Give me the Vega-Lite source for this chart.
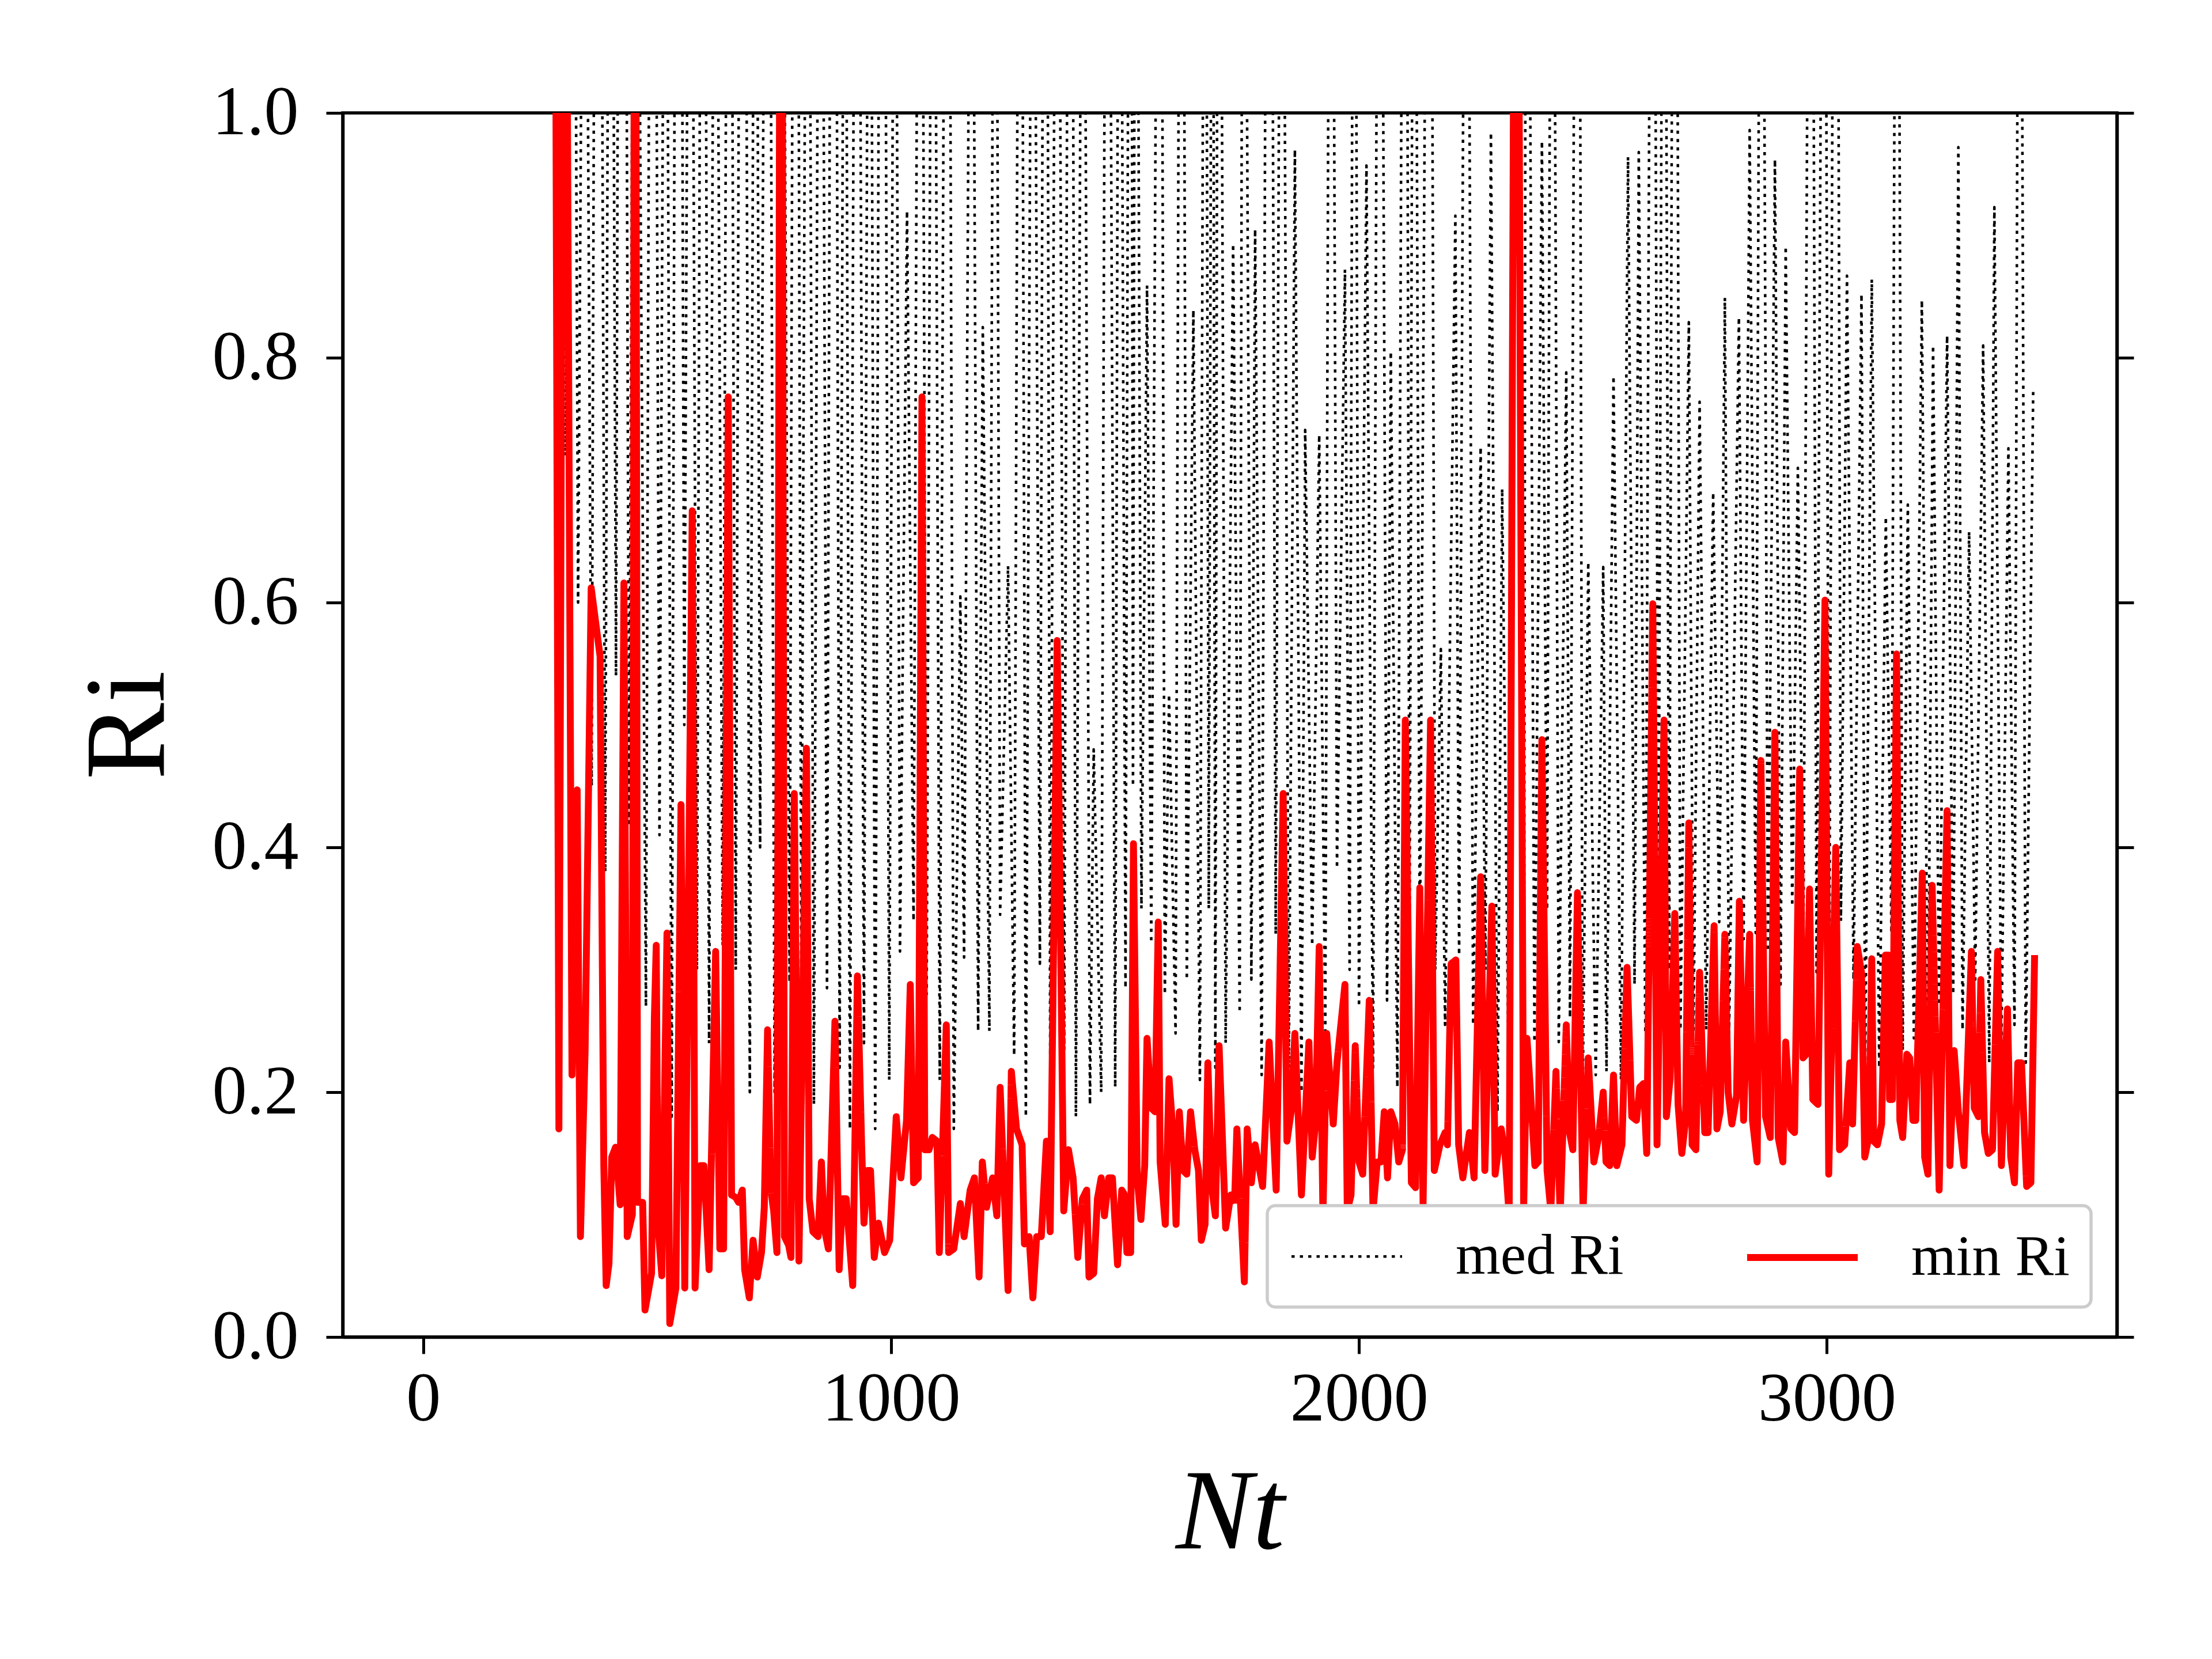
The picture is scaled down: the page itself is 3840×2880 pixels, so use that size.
{
  "$schema": "https://vega.github.io/schema/vega-lite/v6.json",
  "width": 3080,
  "height": 2125,
  "autosize": {"type": "none"},
  "padding": {"left": 595, "top": 196, "right": 165, "bottom": 559},
  "background": "white",
  "config": {
    "view": {"stroke": "black", "strokeWidth": 5.5},
    "font": "Liberation Serif",
    "axis": {
      "grid": false,
      "domainColor": "black",
      "domainWidth": 5.5,
      "tickColor": "black",
      "tickWidth": 5,
      "tickSize": 29,
      "labelColor": "black",
      "labelFont": "Liberation Serif",
      "labelFontSize": 120,
      "labelLimit": 0,
      "titleColor": "black",
      "titleFont": "Liberation Serif",
      "titleFontWeight": "normal",
      "titleFontSize": 200
    }
  },
  "layer": [
    {
      "data": {
        "values": [
          {"series":"med Ri","Nt":292,"Ri":1.6},{"series":"med Ri","Nt":305,"Ri":0.72},{"series":"med Ri","Nt":318,"Ri":1.8},{"series":"med Ri","Nt":331,"Ri":0.6},
          {"series":"med Ri","Nt":345,"Ri":1.5},{"series":"med Ri","Nt":360,"Ri":0.45},{"series":"med Ri","Nt":373,"Ri":2.0},{"series":"med Ri","Nt":389,"Ri":0.38},
          {"series":"med Ri","Nt":400,"Ri":1.7},{"series":"med Ri","Nt":412,"Ri":0.54},{"series":"med Ri","Nt":425,"Ri":2.2},{"series":"med Ri","Nt":440,"Ri":0.42},
          {"series":"med Ri","Nt":453,"Ri":1.6},{"series":"med Ri","Nt":476,"Ri":0.27},{"series":"med Ri","Nt":490,"Ri":1.9},{"series":"med Ri","Nt":505,"Ri":0.41},
          {"series":"med Ri","Nt":518,"Ri":1.5},{"series":"med Ri","Nt":531,"Ri":0.18},{"series":"med Ri","Nt":545,"Ri":2.1},{"series":"med Ri","Nt":558,"Ri":0.5},
          {"series":"med Ri","Nt":571,"Ri":1.6},{"series":"med Ri","Nt":585,"Ri":0.3},{"series":"med Ri","Nt":598,"Ri":1.8},{"series":"med Ri","Nt":611,"Ri":0.24},
          {"series":"med Ri","Nt":624,"Ri":1.5},{"series":"med Ri","Nt":640,"Ri":0.32},{"series":"med Ri","Nt":654,"Ri":1.7},{"series":"med Ri","Nt":668,"Ri":0.30},
          {"series":"med Ri","Nt":683,"Ri":2.0},{"series":"med Ri","Nt":698,"Ri":0.20},{"series":"med Ri","Nt":710,"Ri":1.6},{"series":"med Ri","Nt":720,"Ri":0.40},
          {"series":"med Ri","Nt":736,"Ri":1.8},{"series":"med Ri","Nt":751,"Ri":0.20},{"series":"med Ri","Nt":766,"Ri":1.5},{"series":"med Ri","Nt":783,"Ri":0.29},
          {"series":"med Ri","Nt":796,"Ri":1.9},{"series":"med Ri","Nt":808,"Ri":0.3},{"series":"med Ri","Nt":822,"Ri":1.6},{"series":"med Ri","Nt":835,"Ri":0.19},
          {"series":"med Ri","Nt":849,"Ri":1.7},{"series":"med Ri","Nt":863,"Ri":0.285},{"series":"med Ri","Nt":877,"Ri":2.0},{"series":"med Ri","Nt":890,"Ri":0.22},
          {"series":"med Ri","Nt":901,"Ri":1.5},{"series":"med Ri","Nt":912,"Ri":0.17},{"series":"med Ri","Nt":927,"Ri":1.8},{"series":"med Ri","Nt":942,"Ri":0.24},
          {"series":"med Ri","Nt":954,"Ri":1.6},{"series":"med Ri","Nt":966,"Ri":0.17},{"series":"med Ri","Nt":981,"Ri":1.9},{"series":"med Ri","Nt":996,"Ri":0.21},
          {"series":"med Ri","Nt":1008,"Ri":1.5},{"series":"med Ri","Nt":1019,"Ri":0.315},{"series":"med Ri","Nt":1034,"Ri":0.92},{"series":"med Ri","Nt":1048,"Ri":0.34},
          {"series":"med Ri","Nt":1062,"Ri":1.7},{"series":"med Ri","Nt":1076,"Ri":0.28},{"series":"med Ri","Nt":1090,"Ri":1.6},{"series":"med Ri","Nt":1104,"Ri":0.21},
          {"series":"med Ri","Nt":1120,"Ri":1.8},{"series":"med Ri","Nt":1134,"Ri":0.17},{"series":"med Ri","Nt":1148,"Ri":0.605},{"series":"med Ri","Nt":1156,"Ri":0.31},
          {"series":"med Ri","Nt":1172,"Ri":1.5},{"series":"med Ri","Nt":1186,"Ri":0.25},{"series":"med Ri","Nt":1196,"Ri":0.825},{"series":"med Ri","Nt":1210,"Ri":0.25},
          {"series":"med Ri","Nt":1222,"Ri":1.6},{"series":"med Ri","Nt":1233,"Ri":0.345},{"series":"med Ri","Nt":1250,"Ri":0.63},{"series":"med Ri","Nt":1263,"Ri":0.23},
          {"series":"med Ri","Nt":1276,"Ri":1.7},{"series":"med Ri","Nt":1288,"Ri":0.18},{"series":"med Ri","Nt":1303,"Ri":1.5},{"series":"med Ri","Nt":1318,"Ri":0.305},
          {"series":"med Ri","Nt":1330,"Ri":1.8},{"series":"med Ri","Nt":1340,"Ri":0.23},{"series":"med Ri","Nt":1355,"Ri":1.6},{"series":"med Ri","Nt":1370,"Ri":0.235},
          {"series":"med Ri","Nt":1383,"Ri":1.9},{"series":"med Ri","Nt":1395,"Ri":0.18},{"series":"med Ri","Nt":1410,"Ri":1.5},{"series":"med Ri","Nt":1425,"Ri":0.19},
          {"series":"med Ri","Nt":1433,"Ri":0.48},{"series":"med Ri","Nt":1449,"Ri":0.2},{"series":"med Ri","Nt":1462,"Ri":1.7},{"series":"med Ri","Nt":1479,"Ri":0.204},
          {"series":"med Ri","Nt":1488,"Ri":1.6},{"series":"med Ri","Nt":1501,"Ri":0.285},{"series":"med Ri","Nt":1512,"Ri":1.8},{"series":"med Ri","Nt":1517,"Ri":0.45},
          {"series":"med Ri","Nt":1523,"Ri":1.6},{"series":"med Ri","Nt":1535,"Ri":0.35},{"series":"med Ri","Nt":1547,"Ri":0.859},{"series":"med Ri","Nt":1556,"Ri":0.322},
          {"series":"med Ri","Nt":1575,"Ri":1.7},{"series":"med Ri","Nt":1585,"Ri":0.28},{"series":"med Ri","Nt":1594,"Ri":0.525},{"series":"med Ri","Nt":1608,"Ri":0.248},
          {"series":"med Ri","Nt":1621,"Ri":1.8},{"series":"med Ri","Nt":1632,"Ri":0.292},{"series":"med Ri","Nt":1646,"Ri":0.839},{"series":"med Ri","Nt":1660,"Ri":0.21},
          {"series":"med Ri","Nt":1671,"Ri":1.6},{"series":"med Ri","Nt":1679,"Ri":0.35},{"series":"med Ri","Nt":1687,"Ri":1.5},{"series":"med Ri","Nt":1693,"Ri":0.22},
          {"series":"med Ri","Nt":1700,"Ri":1.7},{"series":"med Ri","Nt":1715,"Ri":0.24},{"series":"med Ri","Nt":1731,"Ri":0.893},{"series":"med Ri","Nt":1745,"Ri":0.265},
          {"series":"med Ri","Nt":1753,"Ri":1.6},{"series":"med Ri","Nt":1770,"Ri":0.292},{"series":"med Ri","Nt":1778,"Ri":0.905},{"series":"med Ri","Nt":1792,"Ri":0.214},
          {"series":"med Ri","Nt":1808,"Ri":1.9},{"series":"med Ri","Nt":1822,"Ri":0.329},{"series":"med Ri","Nt":1835,"Ri":1.6},{"series":"med Ri","Nt":1850,"Ri":0.22},
          {"series":"med Ri","Nt":1863,"Ri":0.97},{"series":"med Ri","Nt":1877,"Ri":0.2},{"series":"med Ri","Nt":1885,"Ri":0.741},{"series":"med Ri","Nt":1900,"Ri":0.32},
          {"series":"med Ri","Nt":1915,"Ri":0.737},{"series":"med Ri","Nt":1928,"Ri":0.25},{"series":"med Ri","Nt":1940,"Ri":1.7},{"series":"med Ri","Nt":1953,"Ri":0.383},
          {"series":"med Ri","Nt":1970,"Ri":0.872},{"series":"med Ri","Nt":1980,"Ri":0.3},{"series":"med Ri","Nt":1990,"Ri":1.6},{"series":"med Ri","Nt":2000,"Ri":0.27},
          {"series":"med Ri","Nt":2016,"Ri":0.957},{"series":"med Ri","Nt":2030,"Ri":0.22},{"series":"med Ri","Nt":2044,"Ri":1.7},{"series":"med Ri","Nt":2060,"Ri":0.275},
          {"series":"med Ri","Nt":2068,"Ri":0.805},{"series":"med Ri","Nt":2082,"Ri":0.204},{"series":"med Ri","Nt":2099,"Ri":1.8},{"series":"med Ri","Nt":2108,"Ri":0.3},
          {"series":"med Ri","Nt":2118,"Ri":1.6},{"series":"med Ri","Nt":2130,"Ri":0.3},{"series":"med Ri","Nt":2151,"Ri":1.7},{"series":"med Ri","Nt":2163,"Ri":0.3},
          {"series":"med Ri","Nt":2175,"Ri":0.562},{"series":"med Ri","Nt":2184,"Ri":0.255},{"series":"med Ri","Nt":2206,"Ri":0.916},{"series":"med Ri","Nt":2214,"Ri":0.312},
          {"series":"med Ri","Nt":2230,"Ri":1.6},{"series":"med Ri","Nt":2244,"Ri":0.255},{"series":"med Ri","Nt":2260,"Ri":0.727},{"series":"med Ri","Nt":2270,"Ri":0.3},
          {"series":"med Ri","Nt":2282,"Ri":0.984},{"series":"med Ri","Nt":2296,"Ri":0.184},{"series":"med Ri","Nt":2306,"Ri":0.693},{"series":"med Ri","Nt":2320,"Ri":0.204},
          {"series":"med Ri","Nt":2336,"Ri":1.6},{"series":"med Ri","Nt":2353,"Ri":0.312},{"series":"med Ri","Nt":2358,"Ri":1.7},{"series":"med Ri","Nt":2375,"Ri":0.241},
          {"series":"med Ri","Nt":2391,"Ri":0.977},{"series":"med Ri","Nt":2402,"Ri":0.349},{"series":"med Ri","Nt":2413,"Ri":1.6},{"series":"med Ri","Nt":2427,"Ri":0.241},
          {"series":"med Ri","Nt":2443,"Ri":0.788},{"series":"med Ri","Nt":2451,"Ri":0.261},{"series":"med Ri","Nt":2468,"Ri":1.8},{"series":"med Ri","Nt":2478,"Ri":0.194},
          {"series":"med Ri","Nt":2490,"Ri":0.633},{"series":"med Ri","Nt":2506,"Ri":0.214},{"series":"med Ri","Nt":2522,"Ri":0.629},{"series":"med Ri","Nt":2529,"Ri":0.217},
          {"series":"med Ri","Nt":2544,"Ri":0.785},{"series":"med Ri","Nt":2560,"Ri":0.21},{"series":"med Ri","Nt":2575,"Ri":0.964},{"series":"med Ri","Nt":2589,"Ri":0.288},
          {"series":"med Ri","Nt":2598,"Ri":0.968},{"series":"med Ri","Nt":2612,"Ri":0.248},{"series":"med Ri","Nt":2628,"Ri":1.7},{"series":"med Ri","Nt":2640,"Ri":0.32},
          {"series":"med Ri","Nt":2652,"Ri":1.6},{"series":"med Ri","Nt":2663,"Ri":0.3},{"series":"med Ri","Nt":2675,"Ri":1.8},{"series":"med Ri","Nt":2687,"Ri":0.251},
          {"series":"med Ri","Nt":2705,"Ri":0.829},{"series":"med Ri","Nt":2715,"Ri":0.251},{"series":"med Ri","Nt":2728,"Ri":0.764},{"series":"med Ri","Nt":2742,"Ri":0.251},
          {"series":"med Ri","Nt":2757,"Ri":0.69},{"series":"med Ri","Nt":2770,"Ri":0.339},{"series":"med Ri","Nt":2782,"Ri":0.849},{"series":"med Ri","Nt":2791,"Ri":0.248},
          {"series":"med Ri","Nt":2812,"Ri":0.833},{"series":"med Ri","Nt":2822,"Ri":0.325},{"series":"med Ri","Nt":2835,"Ri":0.986},{"series":"med Ri","Nt":2848,"Ri":0.33},
          {"series":"med Ri","Nt":2860,"Ri":1.6},{"series":"med Ri","Nt":2874,"Ri":0.315},{"series":"med Ri","Nt":2889,"Ri":0.962},{"series":"med Ri","Nt":2901,"Ri":0.288},
          {"series":"med Ri","Nt":2912,"Ri":0.891},{"series":"med Ri","Nt":2926,"Ri":0.352},{"series":"med Ri","Nt":2938,"Ri":0.71},{"series":"med Ri","Nt":2950,"Ri":0.33},
          {"series":"med Ri","Nt":2966,"Ri":1.7},{"series":"med Ri","Nt":2978,"Ri":0.298},{"series":"med Ri","Nt":2994,"Ri":1.6},{"series":"med Ri","Nt":3005,"Ri":0.27},
          {"series":"med Ri","Nt":3019,"Ri":1.8},{"series":"med Ri","Nt":3030,"Ri":0.34},{"series":"med Ri","Nt":3043,"Ri":0.867},{"series":"med Ri","Nt":3057,"Ri":0.292},
          {"series":"med Ri","Nt":3074,"Ri":0.852},{"series":"med Ri","Nt":3082,"Ri":0.224},{"series":"med Ri","Nt":3096,"Ri":0.864},{"series":"med Ri","Nt":3112,"Ri":0.22},
          {"series":"med Ri","Nt":3126,"Ri":0.67},{"series":"med Ri","Nt":3138,"Ri":0.33},{"series":"med Ri","Nt":3150,"Ri":1.6},{"series":"med Ri","Nt":3162,"Ri":0.234},
          {"series":"med Ri","Nt":3173,"Ri":0.68},{"series":"med Ri","Nt":3186,"Ri":0.244},{"series":"med Ri","Nt":3203,"Ri":0.847},{"series":"med Ri","Nt":3216,"Ri":0.224},
          {"series":"med Ri","Nt":3227,"Ri":0.81},{"series":"med Ri","Nt":3240,"Ri":0.271},{"series":"med Ri","Nt":3257,"Ri":0.818},{"series":"med Ri","Nt":3270,"Ri":0.28},
          {"series":"med Ri","Nt":3281,"Ri":0.972},{"series":"med Ri","Nt":3290,"Ri":0.251},{"series":"med Ri","Nt":3304,"Ri":0.658},{"series":"med Ri","Nt":3317,"Ri":0.292},
          {"series":"med Ri","Nt":3334,"Ri":0.81},{"series":"med Ri","Nt":3347,"Ri":0.224},{"series":"med Ri","Nt":3358,"Ri":0.923},{"series":"med Ri","Nt":3373,"Ri":0.238},
          {"series":"med Ri","Nt":3388,"Ri":0.726},{"series":"med Ri","Nt":3401,"Ri":0.255},{"series":"med Ri","Nt":3412,"Ri":1.6},{"series":"med Ri","Nt":3425,"Ri":0.224},
          {"series":"med Ri","Nt":3441,"Ri":0.774},

          {"series":"min Ri","Nt":280,"Ri":1.5},{"series":"min Ri","Nt":290,"Ri":0.17},{"series":"min Ri","Nt":302,"Ri":1.5},{"series":"min Ri","Nt":318,"Ri":0.214},
          {"series":"min Ri","Nt":329,"Ri":0.447},{"series":"min Ri","Nt":336,"Ri":0.082},{"series":"min Ri","Nt":346,"Ri":0.234},{"series":"min Ri","Nt":359,"Ri":0.612},
          {"series":"min Ri","Nt":378,"Ri":0.556},{"series":"min Ri","Nt":386,"Ri":0.14},{"series":"min Ri","Nt":391,"Ri":0.042},{"series":"min Ri","Nt":397,"Ri":0.06},
          {"series":"min Ri","Nt":403,"Ri":0.147},{"series":"min Ri","Nt":411,"Ri":0.155},{"series":"min Ri","Nt":421,"Ri":0.108},{"series":"min Ri","Nt":429,"Ri":0.616},
          {"series":"min Ri","Nt":436,"Ri":0.082},{"series":"min Ri","Nt":447,"Ri":0.1},{"series":"min Ri","Nt":453,"Ri":1.6},{"series":"min Ri","Nt":458,"Ri":0.11},
          {"series":"min Ri","Nt":469,"Ri":0.11},{"series":"min Ri","Nt":474,"Ri":0.022},{"series":"min Ri","Nt":488,"Ri":0.052},{"series":"min Ri","Nt":494,"Ri":0.26},
          {"series":"min Ri","Nt":498,"Ri":0.32},{"series":"min Ri","Nt":502,"Ri":0.09},{"series":"min Ri","Nt":510,"Ri":0.05},{"series":"min Ri","Nt":521,"Ri":0.33},
          {"series":"min Ri","Nt":527,"Ri":0.011},{"series":"min Ri","Nt":540,"Ri":0.04},{"series":"min Ri","Nt":551,"Ri":0.435},{"series":"min Ri","Nt":559,"Ri":0.04},
          {"series":"min Ri","Nt":575,"Ri":0.675},{"series":"min Ri","Nt":581,"Ri":0.04},{"series":"min Ri","Nt":592,"Ri":0.14},{"series":"min Ri","Nt":600,"Ri":0.14},
          {"series":"min Ri","Nt":611,"Ri":0.055},{"series":"min Ri","Nt":625,"Ri":0.315},{"series":"min Ri","Nt":634,"Ri":0.072},{"series":"min Ri","Nt":642,"Ri":0.072},
          {"series":"min Ri","Nt":652,"Ri":0.768},{"series":"min Ri","Nt":659,"Ri":0.116},{"series":"min Ri","Nt":668,"Ri":0.114},{"series":"min Ri","Nt":674,"Ri":0.11},
          {"series":"min Ri","Nt":682,"Ri":0.12},{"series":"min Ri","Nt":687,"Ri":0.055},{"series":"min Ri","Nt":697,"Ri":0.032},{"series":"min Ri","Nt":705,"Ri":0.079},
          {"series":"min Ri","Nt":714,"Ri":0.049},{"series":"min Ri","Nt":723,"Ri":0.069},{"series":"min Ri","Nt":729,"Ri":0.106},{"series":"min Ri","Nt":736,"Ri":0.251},
          {"series":"min Ri","Nt":743,"Ri":0.12},{"series":"min Ri","Nt":749,"Ri":0.103},{"series":"min Ri","Nt":756,"Ri":0.069},{"series":"min Ri","Nt":765,"Ri":1.6},
          {"series":"min Ri","Nt":772,"Ri":0.082},{"series":"min Ri","Nt":781,"Ri":0.075},{"series":"min Ri","Nt":786,"Ri":0.065},{"series":"min Ri","Nt":793,"Ri":0.444},
          {"series":"min Ri","Nt":803,"Ri":0.062},{"series":"min Ri","Nt":819,"Ri":0.481},{"series":"min Ri","Nt":825,"Ri":0.113},{"series":"min Ri","Nt":833,"Ri":0.086},
          {"series":"min Ri","Nt":844,"Ri":0.082},{"series":"min Ri","Nt":851,"Ri":0.143},{"series":"min Ri","Nt":857,"Ri":0.089},{"series":"min Ri","Nt":866,"Ri":0.072},
          {"series":"min Ri","Nt":880,"Ri":0.258},{"series":"min Ri","Nt":889,"Ri":0.055},{"series":"min Ri","Nt":896,"Ri":0.113},{"series":"min Ri","Nt":904,"Ri":0.113},
          {"series":"min Ri","Nt":918,"Ri":0.042},{"series":"min Ri","Nt":928,"Ri":0.295},{"series":"min Ri","Nt":937,"Ri":0.157},{"series":"min Ri","Nt":942,"Ri":0.093},
          {"series":"min Ri","Nt":949,"Ri":0.136},{"series":"min Ri","Nt":956,"Ri":0.136},{"series":"min Ri","Nt":964,"Ri":0.065},{"series":"min Ri","Nt":973,"Ri":0.093},
          {"series":"min Ri","Nt":986,"Ri":0.069},{"series":"min Ri","Nt":997,"Ri":0.079},{"series":"min Ri","Nt":1011,"Ri":0.18},{"series":"min Ri","Nt":1021,"Ri":0.13},
          {"series":"min Ri","Nt":1033,"Ri":0.177},{"series":"min Ri","Nt":1041,"Ri":0.288},{"series":"min Ri","Nt":1048,"Ri":0.126},{"series":"min Ri","Nt":1058,"Ri":0.13},
          {"series":"min Ri","Nt":1066,"Ri":0.768},{"series":"min Ri","Nt":1072,"Ri":0.153},{"series":"min Ri","Nt":1081,"Ri":0.153},{"series":"min Ri","Nt":1088,"Ri":0.163},
          {"series":"min Ri","Nt":1098,"Ri":0.16},{"series":"min Ri","Nt":1103,"Ri":0.069},{"series":"min Ri","Nt":1118,"Ri":0.255},{"series":"min Ri","Nt":1123,"Ri":0.069},
          {"series":"min Ri","Nt":1134,"Ri":0.072},{"series":"min Ri","Nt":1148,"Ri":0.109},{"series":"min Ri","Nt":1156,"Ri":0.082},{"series":"min Ri","Nt":1169,"Ri":0.12},
          {"series":"min Ri","Nt":1178,"Ri":0.13},{"series":"min Ri","Nt":1188,"Ri":0.049},{"series":"min Ri","Nt":1195,"Ri":0.143},{"series":"min Ri","Nt":1204,"Ri":0.106},
          {"series":"min Ri","Nt":1217,"Ri":0.13},{"series":"min Ri","Nt":1226,"Ri":0.099},{"series":"min Ri","Nt":1233,"Ri":0.204},{"series":"min Ri","Nt":1250,"Ri":0.038},
          {"series":"min Ri","Nt":1257,"Ri":0.217},{"series":"min Ri","Nt":1268,"Ri":0.17},{"series":"min Ri","Nt":1280,"Ri":0.157},{"series":"min Ri","Nt":1285,"Ri":0.076},
          {"series":"min Ri","Nt":1295,"Ri":0.082},{"series":"min Ri","Nt":1303,"Ri":0.032},{"series":"min Ri","Nt":1311,"Ri":0.082},{"series":"min Ri","Nt":1321,"Ri":0.082},
          {"series":"min Ri","Nt":1332,"Ri":0.16},{"series":"min Ri","Nt":1340,"Ri":0.086},{"series":"min Ri","Nt":1355,"Ri":0.569},{"series":"min Ri","Nt":1369,"Ri":0.103},
          {"series":"min Ri","Nt":1379,"Ri":0.153},{"series":"min Ri","Nt":1389,"Ri":0.13},{"series":"min Ri","Nt":1399,"Ri":0.065},{"series":"min Ri","Nt":1409,"Ri":0.113},
          {"series":"min Ri","Nt":1418,"Ri":0.12},{"series":"min Ri","Nt":1423,"Ri":0.049},{"series":"min Ri","Nt":1433,"Ri":0.052},{"series":"min Ri","Nt":1441,"Ri":0.113},
          {"series":"min Ri","Nt":1449,"Ri":0.13},{"series":"min Ri","Nt":1456,"Ri":0.099},{"series":"min Ri","Nt":1465,"Ri":0.13},{"series":"min Ri","Nt":1473,"Ri":0.13},
          {"series":"min Ri","Nt":1484,"Ri":0.059},{"series":"min Ri","Nt":1493,"Ri":0.12},{"series":"min Ri","Nt":1498,"Ri":0.117},{"series":"min Ri","Nt":1504,"Ri":0.069},
          {"series":"min Ri","Nt":1512,"Ri":0.069},{"series":"min Ri","Nt":1518,"Ri":0.403},{"series":"min Ri","Nt":1526,"Ri":0.13},{"series":"min Ri","Nt":1534,"Ri":0.096},
          {"series":"min Ri","Nt":1542,"Ri":0.14},{"series":"min Ri","Nt":1547,"Ri":0.244},{"series":"min Ri","Nt":1556,"Ri":0.187},{"series":"min Ri","Nt":1564,"Ri":0.184},
          {"series":"min Ri","Nt":1571,"Ri":0.339},{"series":"min Ri","Nt":1575,"Ri":0.143},{"series":"min Ri","Nt":1586,"Ri":0.092},{"series":"min Ri","Nt":1594,"Ri":0.211},
          {"series":"min Ri","Nt":1602,"Ri":0.17},{"series":"min Ri","Nt":1609,"Ri":0.092},{"series":"min Ri","Nt":1616,"Ri":0.184},{"series":"min Ri","Nt":1624,"Ri":0.136},
          {"series":"min Ri","Nt":1632,"Ri":0.133},{"series":"min Ri","Nt":1640,"Ri":0.184},{"series":"min Ri","Nt":1649,"Ri":0.153},{"series":"min Ri","Nt":1657,"Ri":0.136},
          {"series":"min Ri","Nt":1663,"Ri":0.079},{"series":"min Ri","Nt":1671,"Ri":0.092},{"series":"min Ri","Nt":1677,"Ri":0.224},{"series":"min Ri","Nt":1685,"Ri":0.123},
          {"series":"min Ri","Nt":1693,"Ri":0.099},{"series":"min Ri","Nt":1701,"Ri":0.238},{"series":"min Ri","Nt":1715,"Ri":0.089},{"series":"min Ri","Nt":1726,"Ri":0.116},
          {"series":"min Ri","Nt":1734,"Ri":0.109},{"series":"min Ri","Nt":1739,"Ri":0.17},{"series":"min Ri","Nt":1755,"Ri":0.045},{"series":"min Ri","Nt":1761,"Ri":0.17},
          {"series":"min Ri","Nt":1770,"Ri":0.126},{"series":"min Ri","Nt":1778,"Ri":0.157},{"series":"min Ri","Nt":1794,"Ri":0.123},{"series":"min Ri","Nt":1808,"Ri":0.241},
          {"series":"min Ri","Nt":1823,"Ri":0.12},{"series":"min Ri","Nt":1838,"Ri":0.444},{"series":"min Ri","Nt":1846,"Ri":0.16},{"series":"min Ri","Nt":1855,"Ri":0.184},
          {"series":"min Ri","Nt":1863,"Ri":0.248},{"series":"min Ri","Nt":1877,"Ri":0.116},{"series":"min Ri","Nt":1893,"Ri":0.241},{"series":"min Ri","Nt":1900,"Ri":0.147},
          {"series":"min Ri","Nt":1907,"Ri":0.174},{"series":"min Ri","Nt":1915,"Ri":0.319},{"series":"min Ri","Nt":1923,"Ri":0.099},{"series":"min Ri","Nt":1931,"Ri":0.248},
          {"series":"min Ri","Nt":1945,"Ri":0.174},{"series":"min Ri","Nt":1953,"Ri":0.224},{"series":"min Ri","Nt":1970,"Ri":0.288},{"series":"min Ri","Nt":1975,"Ri":0.103},
          {"series":"min Ri","Nt":1983,"Ri":0.116},{"series":"min Ri","Nt":1992,"Ri":0.238},{"series":"min Ri","Nt":2000,"Ri":0.143},{"series":"min Ri","Nt":2008,"Ri":0.133},
          {"series":"min Ri","Nt":2022,"Ri":0.275},{"series":"min Ri","Nt":2030,"Ri":0.103},{"series":"min Ri","Nt":2039,"Ri":0.143},{"series":"min Ri","Nt":2047,"Ri":0.143},
          {"series":"min Ri","Nt":2054,"Ri":0.184},{"series":"min Ri","Nt":2061,"Ri":0.13},{"series":"min Ri","Nt":2068,"Ri":0.184},{"series":"min Ri","Nt":2077,"Ri":0.174},
          {"series":"min Ri","Nt":2085,"Ri":0.143},{"series":"min Ri","Nt":2093,"Ri":0.153},{"series":"min Ri","Nt":2099,"Ri":0.504},{"series":"min Ri","Nt":2112,"Ri":0.126},
          {"series":"min Ri","Nt":2121,"Ri":0.122},{"series":"min Ri","Nt":2130,"Ri":0.367},{"series":"min Ri","Nt":2137,"Ri":0.109},{"series":"min Ri","Nt":2153,"Ri":0.504},
          {"series":"min Ri","Nt":2161,"Ri":0.136},{"series":"min Ri","Nt":2173,"Ri":0.157},{"series":"min Ri","Nt":2184,"Ri":0.167},{"series":"min Ri","Nt":2189,"Ri":0.157},
          {"series":"min Ri","Nt":2197,"Ri":0.305},{"series":"min Ri","Nt":2207,"Ri":0.308},{"series":"min Ri","Nt":2213,"Ri":0.157},{"series":"min Ri","Nt":2222,"Ri":0.13},
          {"series":"min Ri","Nt":2236,"Ri":0.167},{"series":"min Ri","Nt":2246,"Ri":0.13},{"series":"min Ri","Nt":2260,"Ri":0.376},{"series":"min Ri","Nt":2269,"Ri":0.136},
          {"series":"min Ri","Nt":2284,"Ri":0.352},{"series":"min Ri","Nt":2291,"Ri":0.133},{"series":"min Ri","Nt":2304,"Ri":0.17},{"series":"min Ri","Nt":2312,"Ri":0.15},
          {"series":"min Ri","Nt":2321,"Ri":0.099},{"series":"min Ri","Nt":2336,"Ri":1.6},{"series":"min Ri","Nt":2352,"Ri":0.106},{"series":"min Ri","Nt":2359,"Ri":0.244},
          {"series":"min Ri","Nt":2366,"Ri":0.204},{"series":"min Ri","Nt":2376,"Ri":0.14},{"series":"min Ri","Nt":2383,"Ri":0.143},{"series":"min Ri","Nt":2391,"Ri":0.488},
          {"series":"min Ri","Nt":2402,"Ri":0.136},{"series":"min Ri","Nt":2410,"Ri":0.103},{"series":"min Ri","Nt":2421,"Ri":0.217},{"series":"min Ri","Nt":2430,"Ri":0.099},
          {"series":"min Ri","Nt":2443,"Ri":0.255},{"series":"min Ri","Nt":2450,"Ri":0.167},{"series":"min Ri","Nt":2457,"Ri":0.153},{"series":"min Ri","Nt":2467,"Ri":0.363},
          {"series":"min Ri","Nt":2479,"Ri":0.103},{"series":"min Ri","Nt":2490,"Ri":0.228},{"series":"min Ri","Nt":2502,"Ri":0.143},{"series":"min Ri","Nt":2512,"Ri":0.163},
          {"series":"min Ri","Nt":2522,"Ri":0.2},{"series":"min Ri","Nt":2528,"Ri":0.143},{"series":"min Ri","Nt":2536,"Ri":0.14},{"series":"min Ri","Nt":2544,"Ri":0.214},
          {"series":"min Ri","Nt":2551,"Ri":0.14},{"series":"min Ri","Nt":2562,"Ri":0.157},{"series":"min Ri","Nt":2573,"Ri":0.302},{"series":"min Ri","Nt":2583,"Ri":0.18},
          {"series":"min Ri","Nt":2593,"Ri":0.177},{"series":"min Ri","Nt":2600,"Ri":0.204},{"series":"min Ri","Nt":2608,"Ri":0.207},{"series":"min Ri","Nt":2615,"Ri":0.15},
          {"series":"min Ri","Nt":2628,"Ri":0.599},{"series":"min Ri","Nt":2637,"Ri":0.157},{"series":"min Ri","Nt":2652,"Ri":0.504},{"series":"min Ri","Nt":2657,"Ri":0.18},
          {"series":"min Ri","Nt":2665,"Ri":0.211},{"series":"min Ri","Nt":2675,"Ri":0.346},{"series":"min Ri","Nt":2682,"Ri":0.19},{"series":"min Ri","Nt":2690,"Ri":0.15},
          {"series":"min Ri","Nt":2698,"Ri":0.177},{"series":"min Ri","Nt":2705,"Ri":0.42},{"series":"min Ri","Nt":2712,"Ri":0.157},{"series":"min Ri","Nt":2720,"Ri":0.153},
          {"series":"min Ri","Nt":2728,"Ri":0.298},{"series":"min Ri","Nt":2739,"Ri":0.167},{"series":"min Ri","Nt":2746,"Ri":0.167},{"series":"min Ri","Nt":2759,"Ri":0.336},
          {"series":"min Ri","Nt":2765,"Ri":0.17},{"series":"min Ri","Nt":2772,"Ri":0.184},{"series":"min Ri","Nt":2782,"Ri":0.329},{"series":"min Ri","Nt":2789,"Ri":0.2},
          {"series":"min Ri","Nt":2797,"Ri":0.174},{"series":"min Ri","Nt":2807,"Ri":0.197},{"series":"min Ri","Nt":2813,"Ri":0.356},{"series":"min Ri","Nt":2822,"Ri":0.177},
          {"series":"min Ri","Nt":2835,"Ri":0.329},{"series":"min Ri","Nt":2841,"Ri":0.177},{"series":"min Ri","Nt":2851,"Ri":0.143},{"series":"min Ri","Nt":2859,"Ri":0.471},
          {"series":"min Ri","Nt":2869,"Ri":0.18},{"series":"min Ri","Nt":2879,"Ri":0.163},{"series":"min Ri","Nt":2889,"Ri":0.494},{"series":"min Ri","Nt":2896,"Ri":0.163},
          {"series":"min Ri","Nt":2906,"Ri":0.143},{"series":"min Ri","Nt":2912,"Ri":0.241},{"series":"min Ri","Nt":2923,"Ri":0.17},{"series":"min Ri","Nt":2931,"Ri":0.167},
          {"series":"min Ri","Nt":2942,"Ri":0.464},{"series":"min Ri","Nt":2949,"Ri":0.228},{"series":"min Ri","Nt":2956,"Ri":0.231},{"series":"min Ri","Nt":2963,"Ri":0.366},
          {"series":"min Ri","Nt":2970,"Ri":0.194},{"series":"min Ri","Nt":2981,"Ri":0.19},{"series":"min Ri","Nt":2996,"Ri":0.602},{"series":"min Ri","Nt":3004,"Ri":0.133},
          {"series":"min Ri","Nt":3019,"Ri":0.4},{"series":"min Ri","Nt":3027,"Ri":0.153},{"series":"min Ri","Nt":3038,"Ri":0.157},{"series":"min Ri","Nt":3049,"Ri":0.224},
          {"series":"min Ri","Nt":3055,"Ri":0.174},{"series":"min Ri","Nt":3065,"Ri":0.319},{"series":"min Ri","Nt":3074,"Ri":0.298},{"series":"min Ri","Nt":3081,"Ri":0.147},
          {"series":"min Ri","Nt":3090,"Ri":0.164},{"series":"min Ri","Nt":3096,"Ri":0.309},{"series":"min Ri","Nt":3100,"Ri":0.16},{"series":"min Ri","Nt":3108,"Ri":0.157},
          {"series":"min Ri","Nt":3117,"Ri":0.174},{"series":"min Ri","Nt":3125,"Ri":0.312},{"series":"min Ri","Nt":3132,"Ri":0.312},{"series":"min Ri","Nt":3134,"Ri":0.194},
          {"series":"min Ri","Nt":3140,"Ri":0.194},{"series":"min Ri","Nt":3149,"Ri":0.558},{"series":"min Ri","Nt":3156,"Ri":0.177},{"series":"min Ri","Nt":3162,"Ri":0.163},
          {"series":"min Ri","Nt":3171,"Ri":0.231},{"series":"min Ri","Nt":3177,"Ri":0.228},{"series":"min Ri","Nt":3184,"Ri":0.177},{"series":"min Ri","Nt":3190,"Ri":0.177},
          {"series":"min Ri","Nt":3204,"Ri":0.379},{"series":"min Ri","Nt":3209,"Ri":0.147},{"series":"min Ri","Nt":3216,"Ri":0.133},{"series":"min Ri","Nt":3225,"Ri":0.369},
          {"series":"min Ri","Nt":3240,"Ri":0.12},{"series":"min Ri","Nt":3257,"Ri":0.43},{"series":"min Ri","Nt":3263,"Ri":0.14},{"series":"min Ri","Nt":3272,"Ri":0.234},
          {"series":"min Ri","Nt":3281,"Ri":0.184},{"series":"min Ri","Nt":3293,"Ri":0.14},{"series":"min Ri","Nt":3309,"Ri":0.315},{"series":"min Ri","Nt":3315,"Ri":0.187},
          {"series":"min Ri","Nt":3324,"Ri":0.18},{"series":"min Ri","Nt":3329,"Ri":0.292},{"series":"min Ri","Nt":3337,"Ri":0.167},{"series":"min Ri","Nt":3345,"Ri":0.15},
          {"series":"min Ri","Nt":3354,"Ri":0.153},{"series":"min Ri","Nt":3365,"Ri":0.315},{"series":"min Ri","Nt":3373,"Ri":0.14},{"series":"min Ri","Nt":3386,"Ri":0.268},
          {"series":"min Ri","Nt":3393,"Ri":0.147},{"series":"min Ri","Nt":3401,"Ri":0.126},{"series":"min Ri","Nt":3408,"Ri":0.224},{"series":"min Ri","Nt":3416,"Ri":0.224},
          {"series":"min Ri","Nt":3427,"Ri":0.123},{"series":"min Ri","Nt":3436,"Ri":0.126},{"series":"min Ri","Nt":3444,"Ri":0.312}
        ]
      },
      "mark": {"type": "line", "clip": true, "strokeCap": "butt", "strokeJoin": "round"},
      "encoding": {
        "x": {
          "field": "Nt",
          "type": "quantitative",
          "scale": {"domain": [-172, 3620], "nice": false, "zero": false},
          "axis": {"values": [0, 1000, 2000, 3000], "format": "d", "labelPadding": 20, "title": "Nt", "titleFontStyle": "italic", "titlePadding": 40, "labelFlush": false}
        },
        "y": {
          "field": "Ri",
          "type": "quantitative",
          "scale": {"domain": [0, 1], "nice": false, "zero": false},
          "axis": {"values": [0, 0.2, 0.4, 0.6, 0.8, 1.0], "format": ".1f", "labelPadding": 48, "title": "Ri", "titlePadding": 70, "labelFlush": false}
        },
        "color": {
          "field": "series",
          "type": "nominal",
          "scale": {"domain": ["med Ri", "min Ri"], "range": ["#000000", "#ff0000"]},
          "legend": {
            "orient": "none",
            "legendX": 1605,
            "legendY": 1897,
            "direction": "horizontal",
            "columns": 2,
            "title": null,
            "fillColor": "white",
            "strokeColor": "#cccccc",
            "cornerRadius": 14,
            "padding": 36,
            "symbolType": "M-1,0H3",
            "symbolSize": 9216,
            "labelFont": "Liberation Serif",
            "labelFontSize": 100,
            "labelColor": "black",
            "labelOffset": 183,
            "columnPadding": 190,
            "labelLimit": 0,
            "encode": {"legend": {"update": {"strokeWidth": {"value": 5.5}}}}
          }
        },
        "strokeDash": {
          "field": "series",
          "type": "nominal",
          "scale": {"domain": ["med Ri", "min Ri"], "range": [[5.5, 9], [1, 0]]}
        },
        "strokeWidth": {
          "field": "series",
          "type": "ordinal",
          "scale": {"domain": ["med Ri", "min Ri"], "range": [4.5, 12]}
        }
      }
    },
    {
      "data": {"values": [{"Ri": 0}]},
      "mark": {"type": "point", "opacity": 0},
      "encoding": {
        "y": {
          "field": "Ri",
          "type": "quantitative",
          "axis": {"orient": "right", "values": [0, 0.2, 0.4, 0.6, 0.8, 1.0], "labels": false, "title": null}
        }
      }
    }
  ],
  "resolve": {"axis": {"y": "independent"}}
}
